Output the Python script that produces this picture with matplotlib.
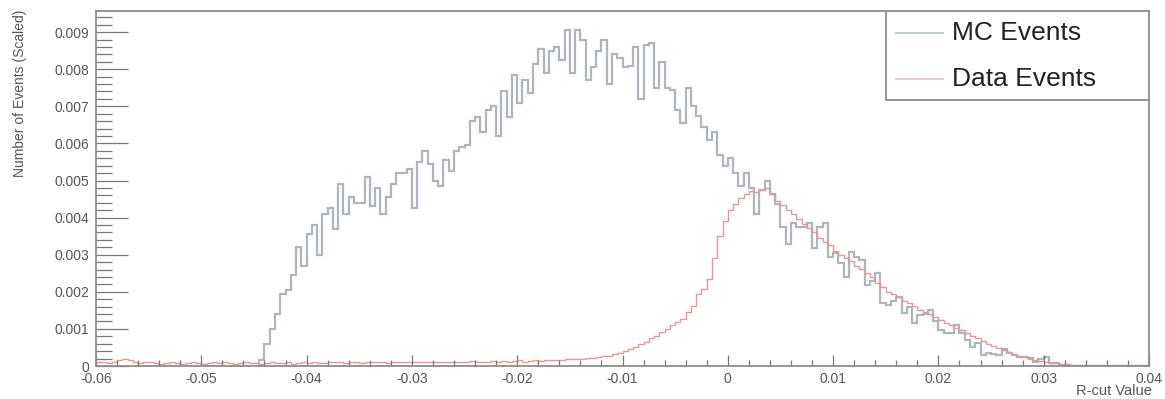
import matplotlib
matplotlib.use("Agg")
import matplotlib.pyplot as plt
from matplotlib.patches import Rectangle
from matplotlib.ticker import MultipleLocator, FuncFormatter
import numpy as np

plt.rcParams.update({
    "figure.facecolor": "white",
    "axes.facecolor": "white",
    "font.family": ["Liberation Sans", "DejaVu Sans"],
})

# histogram binning (ROOT style, fixed width bins)
bin_width = 0.0005
mc_start = -0.0445
data_start = -0.06

# MC events, in units of 1e-3 (scaled)
mc_values = [
    0.15, 0.6, 1.0, 1.4, 1.95, 2.05, 2.45, 3.2, 2.7, 3.55,
    3.8, 3.0, 4.1, 4.25, 3.7, 4.9, 4.1, 4.55, 4.4, 4.4,
    5.1, 4.3, 4.8, 4.1, 4.55, 4.9, 5.2, 5.2, 5.3, 4.25,
    5.5, 5.8, 5.45, 5.0, 4.85, 5.55, 5.25, 5.8, 5.9, 5.95,
    6.6, 6.7, 6.3, 6.9, 7.0, 6.2, 7.4, 6.7, 7.85, 7.1,
    7.7, 7.35, 8.15, 8.55, 7.9, 8.5, 8.6, 8.25, 9.05, 7.9,
    9.05, 8.8, 7.7, 8.05, 8.5, 8.8, 7.6, 8.4, 8.3, 8.05,
    8.1, 8.6, 7.2, 8.65, 8.7, 7.5, 8.2, 7.5, 7.45, 6.9,
    6.55, 7.5, 7.0, 6.75, 6.45, 6.1, 6.3, 5.7, 5.4, 5.6,
    5.2, 4.85, 5.2, 4.8, 4.1, 4.75, 5.0, 4.65, 4.38, 3.75,
    3.3, 3.85, 3.75, 3.75, 3.85, 3.17, 3.75, 3.85, 2.95, 3.04,
    2.77, 2.41, 3.08, 2.95, 2.86, 2.18, 2.3, 2.5, 1.69, 1.64,
    1.75, 1.87, 1.42, 1.6, 1.15, 1.37, 1.4, 1.51, 1.2, 0.97,
    0.88, 0.88, 1.1, 0.9, 0.7, 0.5, 0.61, 0.3, 0.34, 0.32,
    0.3, 0.47, 0.35, 0.3, 0.25, 0.25, 0.21, 0.12, 0.2, 0.25,
    0.07, 0.07, 0.03, 0.02,
]

# Data events, in units of 1e-3 (scaled)
data_values = [
    0.12, 0.1, 0.08, 0.1, 0.15, 0.2, 0.15, 0.1, 0.08, 0.1,
    0.1, 0.08, 0.05, 0.08, 0.1, 0.08, 0.05, 0.08, 0.1, 0.08,
    0.05, 0.08, 0.1, 0.08, 0.1, 0.08, 0.05, 0.08, 0.1, 0.08,
    0.08, 0.05, 0.08, 0.1, 0.08, 0.08, 0.1, 0.05, 0.08, 0.1,
    0.08, 0.1, 0.08, 0.08, 0.1, 0.12, 0.1, 0.08, 0.1, 0.1,
    0.08, 0.1, 0.1, 0.12, 0.1, 0.08, 0.1, 0.12, 0.1, 0.1,
    0.12, 0.1, 0.1, 0.12, 0.1, 0.12, 0.1, 0.12, 0.12, 0.1,
    0.12, 0.14, 0.12, 0.1, 0.12, 0.14, 0.12, 0.14, 0.12, 0.14,
    0.15, 0.12, 0.14, 0.16, 0.14, 0.16, 0.15, 0.17, 0.16, 0.18,
    0.18, 0.2, 0.19, 0.21, 0.22, 0.24, 0.26, 0.28, 0.32, 0.36,
    0.4, 0.45, 0.52, 0.58, 0.64, 0.75, 0.82, 0.92, 1.0, 1.1,
    1.18, 1.28, 1.45, 1.62, 1.95, 2.08, 2.35, 2.9, 3.5, 3.9,
    4.2, 4.38, 4.52, 4.65, 4.72, 4.7, 4.75, 4.8, 4.65, 4.45,
    4.35, 4.2, 4.1, 3.95, 3.82, 3.72, 3.6, 3.45, 3.33, 3.25,
    3.1, 3.0, 2.92, 2.82, 2.7, 2.62, 2.5, 2.4, 2.25, 2.12,
    2.0, 1.94, 1.85, 1.76, 1.7, 1.62, 1.52, 1.46, 1.4, 1.32,
    1.24, 1.16, 1.1, 1.02, 0.96, 0.88, 0.8, 0.75, 0.68, 0.6,
    0.54, 0.48, 0.42, 0.38, 0.33, 0.28, 0.24, 0.2, 0.16, 0.14,
    0.11, 0.09, 0.07, 0.06, 0.05, 0.04, 0.04, 0.03, 0.03, 0.03,
    0.03, 0.03, 0.03, 0.03, 0.03, 0.03, 0.03, 0.03, 0.03, 0.03,
]

labels = ["MC Events", "Data Events"]
scale = 1e-3

mc = np.array(mc_values) * scale
data = np.array(data_values) * scale
mc_edges = mc_start + bin_width * np.arange(len(mc) + 1)
data_edges = data_start + bin_width * np.arange(len(data) + 1)

mc_color = "#adb5be"
data_color = "#e99891"
frame_color = "#8c8c8c"
text_color = "#555555"

fig = plt.figure(figsize=(11.65, 3.99), dpi=100)
ax = fig.add_axes([96 / 1165, 33 / 399, 1053 / 1165, 355 / 399])

ax.stairs(mc, mc_edges, color=mc_color, linewidth=1.6, baseline=0)
ax.stairs(data, data_edges, color=data_color, linewidth=1.0, baseline=0)

ax.set_xlim(-0.06, 0.04)
ax.set_ylim(0, 0.00957)

ax.xaxis.set_major_locator(MultipleLocator(0.01))
ax.xaxis.set_minor_locator(MultipleLocator(0.002))
ax.yaxis.set_major_locator(MultipleLocator(0.001))
ax.yaxis.set_minor_locator(MultipleLocator(0.0002))


def fmt(v, pos):
    v = round(v, 4)
    if v == 0:
        return "0"
    return f"{v:g}"


ax.xaxis.set_major_formatter(FuncFormatter(fmt))
ax.yaxis.set_major_formatter(FuncFormatter(fmt))

ax.tick_params(axis="x", which="major", direction="in", length=8, width=0.9,
               color="#777777", labelsize=10, labelcolor=text_color, pad=4.5)
ax.tick_params(axis="x", which="minor", direction="in", length=4, width=0.9,
               color="#777777")
ax.tick_params(axis="y", which="major", direction="in", length=23, width=0.9,
               color="#777777", labelsize=10, labelcolor=text_color, pad=5)
ax.tick_params(axis="y", which="minor", direction="in", length=11.5, width=0.9,
               color="#777777")

# lift the y "0" label a little so it clears the x "-0.06" label
ax.figure.canvas.draw()
ax.get_yticklabels()[0].set_verticalalignment("bottom")

for s in ax.spines.values():
    s.set_color(frame_color)
    s.set_linewidth(1.3)

fig.text(20 / 1165, 1 - 10 / 399, "Number of Events (Scaled)", rotation=90,
         ha="center", va="top", fontsize=10, color=text_color)
fig.text(1152 / 1165, 1 - 391 / 399, "R-cut Value", ha="right", va="center",
         fontsize=10.5, color=text_color)

# legend box in the top right corner (ROOT TLegend style)
leg_x0 = (886 - 96) / 1053
leg_y0 = (366 - 100) / 355
ax.add_patch(Rectangle((leg_x0, leg_y0), 1 - leg_x0, 1 - leg_y0, transform=ax.transAxes,
                       fill=True, facecolor="white", edgecolor=frame_color,
                       linewidth=1.3, zorder=5))
leg_colors = ["#b9c6d3", "#f0c4c0"]
leg_rows = [(366 - 33) / 355, (366 - 79) / 355]
for lab, col, yy in zip(labels, leg_colors, leg_rows):
    ax.plot([(896 - 96) / 1053, (943 - 96) / 1053], [yy, yy], color=col,
            linewidth=1.3, transform=ax.transAxes, zorder=6, clip_on=False)
    ax.text((952 - 96) / 1053, yy, lab, transform=ax.transAxes, ha="left",
            va="center", fontsize=19, color="#222222", zorder=6)

fig.savefig("out.png", dpi=100)
